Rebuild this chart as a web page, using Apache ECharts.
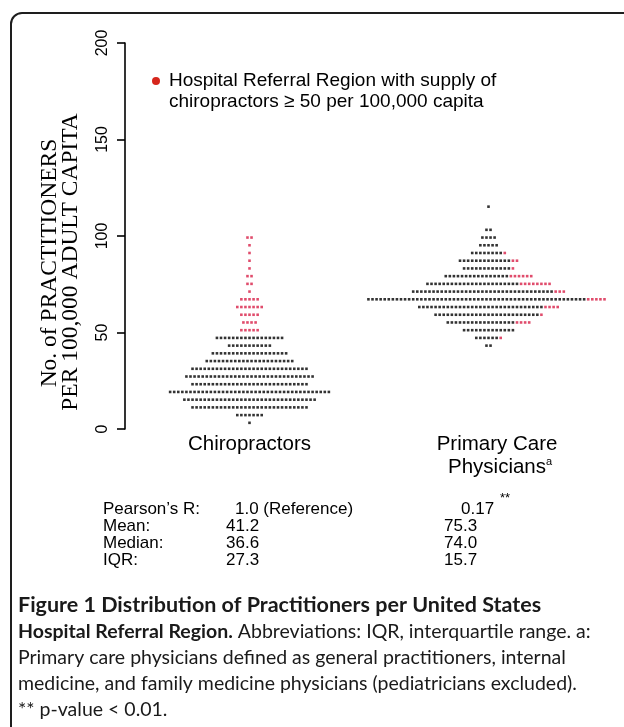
<!DOCTYPE html>
<html><head><meta charset="utf-8">
<script src="https://cdn.jsdelivr.net/npm/echarts@6/dist/echarts.min.js"></script>
<style>html,body{margin:0;padding:0;background:#fff;}#c{width:624px;height:727px;}</style>
</head><body><div id="c"></div>
<script>
// ---- data ----
const categories = ['Chiropractors', 'Primary Care\nPhysicians'];
const yTicks = [0, 50, 100, 150, 200];
// chiropractors: row level (per 100,000) and dots per row (black / red)
const chiroLevels = [3.2, 7.2, 11.2, 15.2, 19.2, 23.2, 27.2, 31.2, 35.2, 39.2, 43.2, 47.2, 51.2, 55.2, 59.2, 63.2, 67.2, 71.2, 75.2, 79.2, 83.2, 87.2, 91.2, 95.2, 99.2];
const chiroBlack  = [1, 7, 29, 33, 40, 29, 32, 29, 22, 19, 11, 17, 0, 0, 0, 0, 0, 0, 0, 0, 0, 0, 0, 0, 0];
const chiroRed    = [0, 0, 0, 0, 0, 0, 0, 0, 0, 0, 0, 0, 5, 4, 5, 7, 5, 1, 2, 2, 1, 1, 1, 1, 2];
// primary care physicians
const pcpLevels = [43.2, 47.2, 51.2, 55.2, 59.2, 63.2, 67.2, 71.2, 75.2, 79.2, 83.2, 87.2, 91.2, 95.2, 99.2, 103.2, 115.2];
const pcpBlack  = [2, 6, 13, 17, 26, 31, 54, 35, 23, 16, 12, 13, 8, 5, 4, 2, 1];
const pcpRed    = [0, 1, 0, 4, 1, 4, 6, 3, 8, 6, 1, 2, 1, 0, 0, 0, 0];
// statistics table
const statLabels = ["Pearson\u2019s R:", 'Mean:', 'Median:', 'IQR:'];
const chiroStats = ['1.0 (Reference)', '41.2', '36.6', '27.3'];
const pcpStats   = ['0.17', '75.3', '74.0', '15.7'];

// ---- layout ----
const STEP = 0.01703;
function swarm(cx, levels, black, red) {
  const b = [], r = [];
  levels.forEach((lv, k) => {
    const n = black[k] + red[k];
    for (let i = 0; i < n; i++) {
      const pt = [cx + (i - (n - 1) / 2) * STEP, lv];
      (i < black[k] ? b : r).push(pt);
    }
  });
  return { b, r };
}
const c1 = swarm(1, chiroLevels, chiroBlack, chiroRed);
const c2 = swarm(2, pcpLevels, pcpBlack, pcpRed);
const RED = '#d81f47';
const SANS = '"Liberation Sans", Arial, sans-serif';
const CAP = 'Lato, "Open Sans", sans-serif';

const graphic = [
  { type: 'rect', shape: { x: 11, y: 13, width: 660, height: 760, r: 11 }, style: { fill: 'none', stroke: '#1e1e1e', lineWidth: 2 } },
  { type: 'circle', shape: { cx: 156, cy: 81, r: 4 }, style: { fill: '#d6261c' } },
  { type: 'text', x: 169, y: 81, style: { text: 'Hospital Referral Region with supply of', font: '19px ' + SANS, fill: '#000', textVerticalAlign: 'middle' } },
  { type: 'text', x: 169, y: 102, style: { text: 'chiropractors \u2265 50 per 100,000 capita', font: '19px ' + SANS, fill: '#000', textVerticalAlign: 'middle' } },
  { type: 'text', x: 50, y: 263, rotation: Math.PI / 2, style: { text: 'No. of PRACTITIONERS', font: '23.5px "Liberation Serif", serif', fill: '#000', textAlign: 'center', textVerticalAlign: 'middle' } },
  { type: 'text', x: 71, y: 262, rotation: Math.PI / 2, style: { text: 'PER 100,000 ADULT CAPITA', font: '23.5px "Liberation Serif", serif', fill: '#000', textAlign: 'center', textVerticalAlign: 'middle' } }
];
const statY = [509, 526, 543, 560.5];
statLabels.forEach((t, i) => {
  graphic.push({ type: 'text', x: 103, y: statY[i], style: { text: t, font: '17px ' + SANS, fill: '#000', textVerticalAlign: 'middle' } });
  graphic.push({ type: 'text', x: i === 0 ? 235 : 226, y: statY[i], style: { text: chiroStats[i], font: '17px ' + SANS, fill: '#000', textVerticalAlign: 'middle' } });
  graphic.push({ type: 'text', x: i === 0 ? 461 : 444, y: statY[i], style: { text: pcpStats[i], font: '17px ' + SANS, fill: '#000', textVerticalAlign: 'middle' } });
});
graphic.push({ type: 'text', x: 500, y: 498, style: { text: '**', font: '13px ' + SANS, fill: '#000', textVerticalAlign: 'middle' } });

const capLines = [
  [['Figure 1 Distribution of Practitioners per United States', 'b1']],
  [['Hospital Referral Region.', 'b'], [' Abbreviations: IQR, interquartile range. a:', 'n']],
  [['Primary care physicians defined as general practitioners, internal', 'n']],
  [['medicine, and family medicine physicians (pediatricians excluded).', 'n']],
  [['** p-value < 0.01.', 'n']]
];
capLines.forEach((segs, i) => {
  const txt = segs.map(s => '{' + s[1] + '|' + s[0] + '}').join('');
  graphic.push({ type: 'text', x: 18, y: 605 + i * 26.3, style: {
    text: txt, textVerticalAlign: 'middle', fill: '#1a1a1a',
    rich: {
      b1: { font: 'bold 21.5px ' + CAP, fill: '#1a1a1a' },
      b: { font: 'bold 19.5px ' + CAP, fill: '#1a1a1a' },
      n: { font: '19.5px ' + CAP, fill: '#1a1a1a' }
    }
  } });
});

const chart = echarts.init(document.getElementById('c'), null, { renderer: 'canvas' });
chart.setOption({
  animation: false,
  backgroundColor: '#fff',
  grid: { left: 130, right: 16, top: 43, bottom: 298 },
  xAxis: {
    type: 'value', min: 0.5, max: 2.5,
    axisLine: { show: false }, axisTick: { show: false }, splitLine: { show: false },
    axisLabel: {
      customValues: [1, 2], margin: 4, color: '#000', fontSize: 20.5, fontFamily: 'Liberation Sans', lineHeight: 23,
      formatter: v => {
        if (v === 1) return categories[0];
        return categories[1].split('\n').map((s, i) => '{p|' + s + '}' + (i === 1 ? '{sup|a}' : '{q|}')).join('\n');
      },
      rich: {
        p: { fontSize: 20.5, fontFamily: 'Liberation Sans', color: '#000', lineHeight: 23, padding: [0, 0, 0, 23] },
        q: { fontSize: 11, width: 6, lineHeight: 23 },
        sup: { fontSize: 11, fontFamily: 'Liberation Sans', color: '#000', verticalAlign: 'top', lineHeight: 23, width: 6 }
      }
    }
  },
  yAxis: {
    type: 'value', min: yTicks[0], max: yTicks[yTicks.length - 1], interval: 50, offset: 5,
    axisLine: { show: true, lineStyle: { color: '#000', width: 1.6 } },
    axisTick: { show: true, length: 8, lineStyle: { color: '#000', width: 1.6 } },
    splitLine: { show: false },
    axisLabel: { rotate: 90, margin: 14.5, color: '#000', fontSize: 16, fontFamily: 'Liberation Sans' }
  },
  series: [
    { type: 'scatter', data: c1.b.concat(c2.b), symbol: 'rect', symbolSize: 2.6, itemStyle: { color: '#000' }, silent: true },
    { type: 'scatter', data: c1.r.concat(c2.r), symbol: 'rect', symbolSize: 2.6, itemStyle: { color: RED }, silent: true }
  ],
  graphic: graphic
});
</script></body></html>
